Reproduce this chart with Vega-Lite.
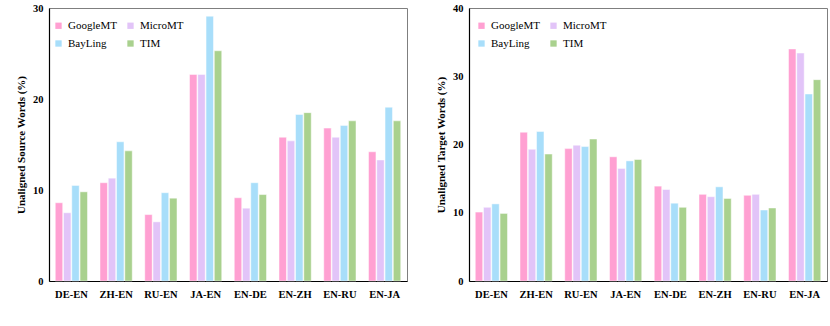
{
  "$schema": "https://vega.github.io/schema/vega-lite/v6.json",
  "background": "white",
  "padding": {"left": 15, "top": 2, "right": 5, "bottom": 5},
  "spacing": 27,
  "config": {
    "font": "Liberation Serif",
    "view": {"stroke": "#7f7f7f", "strokeWidth": 1},
    "axis": {"grid": false, "ticks": false, "domainColor": "#000", "domainWidth": 1.2,
             "labelFont": "Liberation Serif", "labelFontWeight": "bold", "labelFontSize": 10.5, "labelColor": "#000",
             "titleFont": "Liberation Serif", "titleFontWeight": "bold", "titleFontSize": 11, "titleColor": "#000"},
    "legend": {"labelFont": "Liberation Serif", "labelFontSize": 11, "labelColor": "#000", "padding": 0}
  },
  "data": {"values": [
    {"pair": "DE-EN", "system": "GoogleMT", "source": 8.6, "target": 10.1},
    {"pair": "DE-EN", "system": "MicroMT", "source": 7.5, "target": 10.8},
    {"pair": "DE-EN", "system": "BayLing", "source": 10.5, "target": 11.3},
    {"pair": "DE-EN", "system": "TIM", "source": 9.8, "target": 9.9},
    {"pair": "ZH-EN", "system": "GoogleMT", "source": 10.8, "target": 21.8},
    {"pair": "ZH-EN", "system": "MicroMT", "source": 11.3, "target": 19.3},
    {"pair": "ZH-EN", "system": "BayLing", "source": 15.3, "target": 21.9},
    {"pair": "ZH-EN", "system": "TIM", "source": 14.3, "target": 18.6},
    {"pair": "RU-EN", "system": "GoogleMT", "source": 7.3, "target": 19.4},
    {"pair": "RU-EN", "system": "MicroMT", "source": 6.5, "target": 19.9},
    {"pair": "RU-EN", "system": "BayLing", "source": 9.7, "target": 19.7},
    {"pair": "RU-EN", "system": "TIM", "source": 9.1, "target": 20.8},
    {"pair": "JA-EN", "system": "GoogleMT", "source": 22.7, "target": 18.2},
    {"pair": "JA-EN", "system": "MicroMT", "source": 22.7, "target": 16.5},
    {"pair": "JA-EN", "system": "BayLing", "source": 29.1, "target": 17.6},
    {"pair": "JA-EN", "system": "TIM", "source": 25.3, "target": 17.8},
    {"pair": "EN-DE", "system": "GoogleMT", "source": 9.15, "target": 13.9},
    {"pair": "EN-DE", "system": "MicroMT", "source": 8.0, "target": 13.4},
    {"pair": "EN-DE", "system": "BayLing", "source": 10.8, "target": 11.4},
    {"pair": "EN-DE", "system": "TIM", "source": 9.5, "target": 10.8},
    {"pair": "EN-ZH", "system": "GoogleMT", "source": 15.8, "target": 12.7},
    {"pair": "EN-ZH", "system": "MicroMT", "source": 15.4, "target": 12.35},
    {"pair": "EN-ZH", "system": "BayLing", "source": 18.3, "target": 13.8},
    {"pair": "EN-ZH", "system": "TIM", "source": 18.5, "target": 12.1},
    {"pair": "EN-RU", "system": "GoogleMT", "source": 16.8, "target": 12.55},
    {"pair": "EN-RU", "system": "MicroMT", "source": 15.8, "target": 12.7},
    {"pair": "EN-RU", "system": "BayLing", "source": 17.1, "target": 10.4},
    {"pair": "EN-RU", "system": "TIM", "source": 17.6, "target": 10.7},
    {"pair": "EN-JA", "system": "GoogleMT", "source": 14.2, "target": 34.0},
    {"pair": "EN-JA", "system": "MicroMT", "source": 13.3, "target": 33.4},
    {"pair": "EN-JA", "system": "BayLing", "source": 19.1, "target": 27.4},
    {"pair": "EN-JA", "system": "TIM", "source": 17.6, "target": 29.5}
  ]},
  "resolve": {"legend": {"color": "independent"}},
  "hconcat": [
    {
      "width": 358, "height": 273,
      "mark": {"type": "bar", "stroke": "white", "strokeWidth": 0.6, "strokeOpacity": 0.8},
      "encoding": {
        "x": {"field": "pair", "type": "nominal", "sort": ["DE-EN","ZH-EN","RU-EN","JA-EN","EN-DE","EN-ZH","EN-RU","EN-JA"],
              "scale": {"paddingInner": 0.28, "paddingOuter": 0.14},
              "axis": {"title": null, "labelAngle": 0, "labelPadding": 8, "labelFont": "Liberation Serif"}},
        "xOffset": {"field": "system", "type": "nominal", "sort": ["GoogleMT","MicroMT","BayLing","TIM"], "scale": {"paddingInner": 0.1}},
        "y": {"field": "source", "type": "quantitative", "scale": {"domain": [0, 30], "nice": false},
              "axis": {"values": [0, 10, 20, 30], "title": "Unaligned Source  Words (%)", "labelPadding": 6, "titlePadding": 6, "labelFont": "Liberation Serif"}},
        "color": {"field": "system", "type": "nominal", "sort": ["GoogleMT","MicroMT","BayLing","TIM"],
                  "scale": {"domain": ["GoogleMT","MicroMT","BayLing","TIM"], "range": ["#ffa0d2", "#e2c4f8", "#a8defa", "#a9d18e"]},
                  "legend": {"title": null, "orient": "none", "legendX": 4, "legendY": 12, "direction": "horizontal", "columns": 2,
                             "symbolType": "square", "symbolSize": 40, "rowPadding": 6, "columnPadding": 8, "symbolStrokeWidth": 0}}
      }
    },
    {
      "width": 358, "height": 273,
      "mark": {"type": "bar", "stroke": "white", "strokeWidth": 0.6, "strokeOpacity": 0.8},
      "encoding": {
        "x": {"field": "pair", "type": "nominal", "sort": ["DE-EN","ZH-EN","RU-EN","JA-EN","EN-DE","EN-ZH","EN-RU","EN-JA"],
              "scale": {"paddingInner": 0.28, "paddingOuter": 0.14},
              "axis": {"title": null, "labelAngle": 0, "labelPadding": 8, "labelFont": "Liberation Serif"}},
        "xOffset": {"field": "system", "type": "nominal", "sort": ["GoogleMT","MicroMT","BayLing","TIM"], "scale": {"paddingInner": 0.1}},
        "y": {"field": "target", "type": "quantitative", "scale": {"domain": [0, 40], "nice": false},
              "axis": {"values": [0, 10, 20, 30, 40], "title": "Unaligned Target  Words (%)", "labelPadding": 6, "titlePadding": 6, "labelFont": "Liberation Serif"}},
        "color": {"field": "system", "type": "nominal", "sort": ["GoogleMT","MicroMT","BayLing","TIM"],
                  "scale": {"domain": ["GoogleMT","MicroMT","BayLing","TIM"], "range": ["#ffa0d2", "#e2c4f8", "#a8defa", "#a9d18e"]},
                  "legend": {"title": null, "orient": "none", "legendX": 7, "legendY": 12, "direction": "horizontal", "columns": 2,
                             "symbolType": "square", "symbolSize": 40, "rowPadding": 6, "columnPadding": 8, "symbolStrokeWidth": 0}}
      }
    }
  ]
}
